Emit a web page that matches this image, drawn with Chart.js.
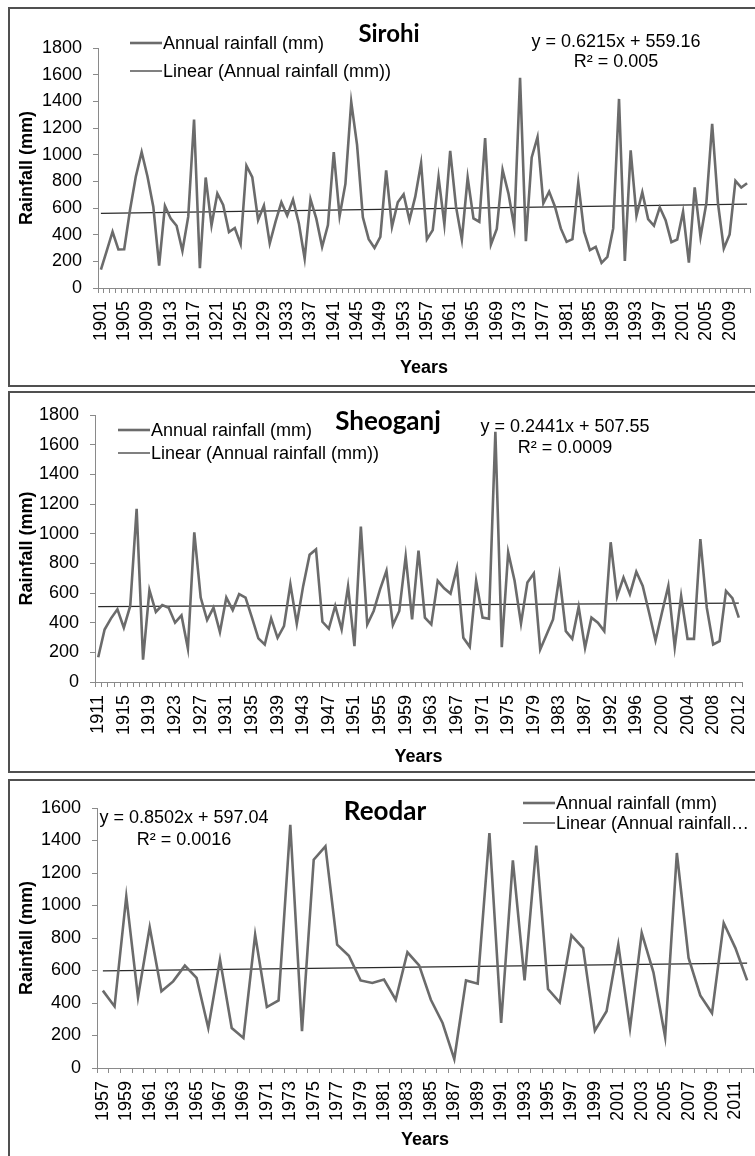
<!DOCTYPE html>
<html>
<head>
<meta charset="utf-8">
<script src="https://cdn.jsdelivr.net/npm/chart.js@4.4.1/dist/chart.umd.min.js"></script>
<style>
  body { margin: 0; background: #fff; width: 755px; height: 1156px; overflow: hidden; position: relative; }
  canvas { position: absolute; left: 0; }
  .box { position: absolute; left: 8px; width: 760px; border: 2px solid #505050; pointer-events: none; }
</style>
</head>
<body>
<canvas id="sirohi" width="780" height="387" style="top:0"></canvas>
<canvas id="sheoganj" width="780" height="382" style="top:391px"></canvas>
<canvas id="reodar" width="780" height="377" style="top:779px"></canvas>
<div class="box" style="top:7px;height:376px"></div>
<div class="box" style="top:391px;height:378px"></div>
<div class="box" style="top:779px;height:420px"></div>
<script>
// rainfall values (mm)
const sirohiYears = [1901,1902,1903,1904,1905,1906,1907,1908,1909,1910,1911,1912,1913,1914,1915,1916,1917,1918,1919,1920,
  1921,1922,1923,1924,1925,1926,1927,1928,1929,1930,1931,1932,1933,1934,1935,1936,1937,1938,1939,1940,
  1941,1942,1943,1944,1945,1946,1947,1948,1949,1950,1951,1952,1953,1954,1955,1956,1957,1958,1959,1960,
  1961,1962,1963,1964,1965,1966,1967,1968,1969,1970,1971,1972,1973,1974,1975,1976,1977,1978,1979,1980,
  1981,1982,1983,1984,1985,1986,1987,1988,1989,1990,1991,1992,1993,1994,1995,1996,1997,1998,1999,2000,
  2001,2002,2003,2004,2005,2006,2007,2008,2009,2010,2011,2012]
const sirohiRain = [138,279,422,289,291,585,837,1020,837,610,168,616,520,467,279,535,1264,148,829,470,
  709,623,420,450,329,917,832,510,618,334,498,643,543,663,485,221,666,520,309,472,
  1019,540,781,1396,1074,530,366,301,384,883,459,643,703,509,685,936,366,434,831,477,
  1029,610,364,828,522,497,1124,326,442,886,710,459,1576,351,979,1132,635,723,610,447,
  346,366,791,422,284,309,188,233,447,1418,203,1032,542,718,517,467,605,509,344,364,
  572,191,755,384,635,1232,635,296,402,803,753,786]
const sirohiTrend = [560, 629]

const sheoganjYears = [1911,1912,1913,1914,1915,1916,1917,1918,1919,1920,1921,1922,1923,1924,1925,1926,1927,1928,1929,1930,
  1931,1932,1933,1934,1935,1936,1937,1938,1939,1940,1941,1942,1943,1944,1945,1946,1947,1948,1949,1950,
  1951,1952,1953,1954,1955,1956,1957,1958,1959,1960,1961,1962,1963,1964,1965,1966,1967,1968,1969,1970,
  1971,1972,1973,1974,1975,1976,1977,1978,1979,1980,1981,1982,1983,1984,1985,1986,1987,1988,1989,1991,
  1992,1993,1994,1995,1996,1997,1998,1999,2000,2001,2002,2003,2004,2005,2006,2007,2008,2009,2010,2011,2012]
const sheoganjRain = [167,354,429,490,366,513,1167,151,619,472,519,501,400,449,226,1009,569,418,501,336,
  569,485,592,569,434,294,253,429,298,377,659,393,648,858,894,406,359,513,354,644,
  242,1048,388,479,625,750,384,479,847,422,885,434,388,682,632,596,768,298,237,682,
  434,427,1687,235,874,682,395,671,732,219,321,422,716,343,291,506,230,434,400,343,
  942,576,704,592,743,648,467,280,467,648,235,580,291,291,964,501,253,275,614,565,434]
const sheoganjTrend = [508, 532]

const reodarYears = [1957,1958,1959,1960,1961,1962,1963,1964,1965,1966,1967,1968,1969,1970,1971,1972,1973,1974,1975,1976,
  1977,1978,1979,1980,1981,1982,1983,1984,1985,1986,1987,1988,1989,1990,1991,1992,1993,1994,1995,1996,
  1997,1998,1999,2000,2001,2002,2003,2004,2005,2006,2007,2008,2009,2010,2011,2012]
const reodarRain = [476,379,1056,435,866,472,533,630,554,246,667,246,185,820,375,416,1497,226,1282,1364,
  759,691,539,523,544,420,712,632,420,277,55,539,519,1446,277,1278,539,1368,486,404,
  816,738,230,349,759,244,831,589,191,1323,677,447,338,892,738,539]
const reodarTrend = [598, 645]

Chart.defaults.font.family = '"Liberation Sans", Arial, sans-serif'
Chart.defaults.color = '#000'

// trend line: only the two end values, the line spans the gap
function trendSeries(n, ends) {
  return Array.from({ length: n }, (_, i) => (i === 0 ? ends[0] : i === n - 1 ? ends[1] : null))
}

// title, in-plot legend and trend equation
const overlay = {
  id: 'overlay',
  afterDraw(chart, args, o) {
    const ctx = chart.ctx
    ctx.save()
    ctx.fillStyle = '#000'
    ctx.textAlign = 'center'
    ctx.textBaseline = 'alphabetic'
    ctx.font = 'bold ' + o.titleSize + 'px Lato, "Open Sans", sans-serif'
    ctx.fillText(o.title, o.titleX, o.titleY)
    ctx.font = '18px "Liberation Sans", Arial, sans-serif'
    ctx.fillText(o.eq[0], o.eqX, o.eqY[0])
    ctx.fillText(o.eq[1], o.eqX, o.eqY[1])
    ctx.textAlign = 'left'
    ctx.textBaseline = 'middle'
    chart.data.datasets.forEach((ds, i) => {
      const y = o.legY[i]
      ctx.strokeStyle = ds.borderColor
      ctx.lineWidth = ds.borderWidth
      ctx.beginPath()
      ctx.moveTo(o.legX, y)
      ctx.lineTo(o.legX + 32, y)
      ctx.stroke()
      ctx.fillText(o.legText[i], o.legX + 33, y + 1)
    })
    ctx.restore()
  },
}

function rainChart(id, years, rain, trend, o) {
  return new Chart(document.getElementById(id), {
    type: 'line',
    data: {
      labels: years,
      datasets: [
        {
          label: 'Annual rainfall (mm)',
          data: rain,
          borderColor: '#6b6b6b',
          borderWidth: 2.6,
          pointRadius: 0,
        },
        {
          label: 'Linear (Annual rainfall (mm))',
          data: trendSeries(years.length, trend),
          borderColor: '#2a2a2a',
          borderWidth: 1.2,
          pointRadius: 0,
          spanGaps: true,
        },
      ],
    },
    options: {
      responsive: false,
      animation: false,
      layout: { padding: { top: o.top, right: o.right, left: 0, bottom: 0 } },
      plugins: {
        legend: { display: false },
        tooltip: { enabled: false },
        overlay: o.overlay,
      },
      scales: {
        x: {
          offset: true,
          grid: { offset: true, drawOnChartArea: false, tickLength: 5, color: '#8a8a8a' },
          border: { color: '#8a8a8a' },
          ticks: {
            autoSkip: false,
            minRotation: 90,
            maxRotation: 90,
            padding: 8,
            font: { size: 18 },
            callback(v, i) {
              return i % o.every === 0 ? this.getLabelForValue(v) : ''
            },
          },
          title: {
            display: true,
            text: 'Years',
            font: { size: 18, weight: 'bold' },
            padding: { top: 0, bottom: o.yearsPad },
          },
          afterFit(s) {
            s.height = o.xh
          },
        },
        y: {
          min: 0,
          max: o.max,
          grid: { drawOnChartArea: false, tickLength: 5, color: '#8a8a8a' },
          border: { color: '#8a8a8a' },
          ticks: { stepSize: 200, padding: 11, font: { size: 18 }, callback: (v) => String(v) },
          title: {
            display: true,
            text: 'Rainfall (mm)',
            font: { size: 18, weight: 'bold' },
            padding: { top: 16, bottom: 0 },
          },
          afterFit(s) {
            s.width = o.yw
          },
        },
      },
    },
    plugins: [overlay],
  })
}

rainChart('sirohi', sirohiYears, sirohiRain, sirohiTrend, {
  max: 1800, every: 4, top: 48, right: 30, xh: 99, yw: 98, yearsPad: 8,
  overlay: {
    title: 'Sirohi', titleSize: 24, titleX: 389, titleY: 42,
    eq: ['y = 0.6215x + 559.16', 'R² = 0.005'], eqX: 616, eqY: [47, 67],
    legX: 130, legY: [43, 71],
    legText: ['Annual rainfall (mm)', 'Linear (Annual rainfall (mm))'],
  },
})

rainChart('sheoganj', sheoganjYears, sheoganjRain, sheoganjTrend, {
  max: 1800, every: 4, top: 24, right: 38, xh: 91, yw: 95, yearsPad: 5,
  overlay: {
    title: 'Sheoganj', titleSize: 26, titleX: 388, titleY: 39,
    eq: ['y = 0.2441x + 507.55', 'R² = 0.0009'], eqX: 565, eqY: [41, 62],
    legX: 118, legY: [39, 62],
    legText: ['Annual rainfall (mm)', 'Linear (Annual rainfall (mm))'],
  },
})

rainChart('reodar', reodarYears, reodarRain, reodarTrend, {
  max: 1600, every: 2, top: 29, right: 27, xh: 88, yw: 97, yearsPad: 5,
  overlay: {
    title: 'Reodar', titleSize: 26, titleX: 385, titleY: 41,
    eq: ['y = 0.8502x + 597.04', 'R² = 0.0016'], eqX: 184, eqY: [44, 66],
    legX: 523, legY: [24, 44],
    legText: ['Annual rainfall (mm)', 'Linear (Annual rainfall…'],
  },
})
</script>
</body>
</html>
